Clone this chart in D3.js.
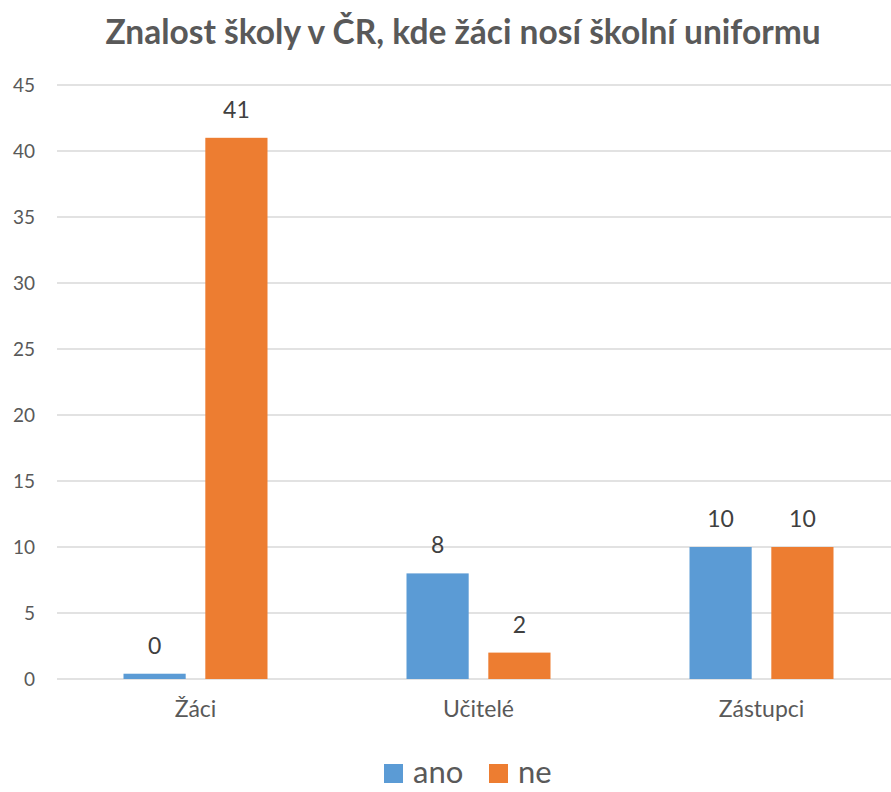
<!DOCTYPE html>
<html>
<head>
<meta charset="utf-8">
<script src="https://cdn.jsdelivr.net/npm/d3@7"></script>
<style>
  body { margin: 0; background: #fff; overflow: hidden; }
  svg { font-family: Lato, "Open Sans", sans-serif; display: block; }
</style>
</head>
<body>
<div id="chart"></div>
<script>
 var blue = '#5B9BD5',
     orange = '#ED7D31',
     grid = '#D9D9D9',
     text_gray = '#595959';

 // data
 var categories = ['Žáci', 'Učitelé', 'Zástupci'];
 var series = ['ano', 'ne'];
 var ano = [0.4, 8, 10];   // first bar is drawn as a thin sliver, labelled 0
 var ne = [41, 2, 10];
 var yTicks = [0, 5, 10, 15, 20, 25, 30, 35, 40, 45];

 var pic_width = 891,
     pic_height = 792;

 // plot area
 var margin = { top: 85, right: -12, bottom: 113, left: 54 };
 var width = pic_width - margin.left - margin.right,
     height = pic_height - margin.top - margin.bottom;

 var svg = d3.select('#chart').append('svg')
     .attr('width', pic_width)
     .attr('height', pic_height);

 svg.append('text')
     .attr('x', 463)
     .attr('y', 44)
     .attr('text-anchor', 'middle')
     .style('font-size', '33.5px')
     .style('font-weight', 'bold')
     .style('fill', text_gray)
     .text('Znalost školy v ČR, kde žáci nosí školní uniformu');

 var yScale = d3.scaleLinear().domain([0, 45]).range([height, 0]);
 var xScale = d3.scaleBand().domain(categories).range([0, width]);
 var xInner = d3.scaleBand().domain(series)
     .range([xScale.bandwidth() / 2 - 72, xScale.bandwidth() / 2 + 72])
     .paddingInner(0.24);
 var colors = d3.scaleOrdinal().domain(series).range([blue, orange]);

 var g = svg.append('g')
     .attr('transform', 'translate(' + margin.left + ', ' + margin.top + ')');

 // gridlines
 g.selectAll('line.grid').data(yTicks)
     .enter().append('line')
     .attr('class', 'grid')
     .attr('x1', 3).attr('x2', width)
     .attr('y1', function(d) { return yScale(d); })
     .attr('y2', function(d) { return yScale(d); })
     .style('stroke', grid)
     .style('stroke-width', 1.5);

 // y axis labels
 var yAxis = d3.axisLeft(yScale).tickValues(yTicks).tickSize(0).tickPadding(19);
 var ya = g.append('g').call(yAxis);
 ya.select('.domain').remove();
 ya.selectAll('text').style('font-size', '19px').style('fill', text_gray)
     .style('font-family', 'Lato, sans-serif');

 var rows = categories.map(function(c, i) {
     return { cat: c, values: [{ key: 'ano', value: ano[i] }, { key: 'ne', value: ne[i] }] };
 });

 var groups = g.selectAll('g.cat').data(rows)
     .enter().append('g')
     .attr('transform', function(d) { return 'translate(' + xScale(d.cat) + ',0)'; });

 groups.selectAll('rect').data(function(d) { return d.values; })
     .enter().append('rect')
     .attr('x', function(d) { return xInner(d.key); })
     .attr('width', xInner.bandwidth())
     .attr('y', function(d) { return yScale(d.value); })
     .attr('height', function(d) { return height - yScale(d.value); })
     .style('fill', function(d) { return colors(d.key); });

 groups.selectAll('text.val').data(function(d) { return d.values; })
     .enter().append('text')
     .attr('class', 'val')
     .attr('x', function(d) { return xInner(d.key) + xInner.bandwidth() / 2; })
     .attr('y', function(d) { return yScale(d.value) - 20; })
     .attr('text-anchor', 'middle')
     .style('font-size', '23px')
     .style('fill', '#404040')
     .text(function(d) { return d3.format('.0f')(d.value); });

 // x axis labels
 var xAxis = d3.axisBottom(xScale).tickSize(0).tickPadding(22);
 var xa = g.append('g').attr('transform', 'translate(0,' + height + ')').call(xAxis);
 xa.select('.domain').remove();
 xa.selectAll('text').style('font-size', '23px').style('fill', text_gray)
     .style('font-family', 'Lato, sans-serif');

 // legend at the bottom edge
 var legend = svg.append('g').attr('transform', 'translate(384, 764)');
 var legendX = d3.scaleOrdinal().domain(series).range([0, 105]);
 var items = legend.selectAll('g').data(series)
     .enter().append('g')
     .attr('transform', function(d) { return 'translate(' + legendX(d) + ',0)'; });
 items.append('rect')
     .attr('width', 19).attr('height', 19)
     .style('fill', function(d) { return colors(d); });
 items.append('text')
     .attr('x', 29).attr('y', 19)
     .style('font-size', '31px')
     .style('fill', text_gray)
     .text(function(d) { return d; });
</script>
</body>
</html>
